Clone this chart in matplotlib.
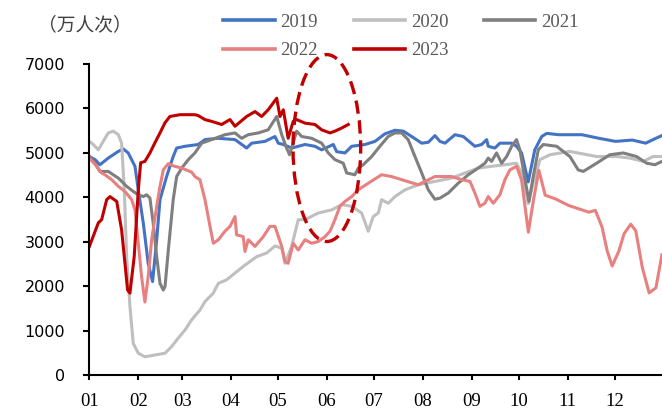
import matplotlib.pyplot as plt
from matplotlib.patches import Ellipse

plt.rcParams['font.family'] = ['DejaVu Sans']

# day of year -> 万人次
days_2019 = [0, 3.6, 6.7, 12, 18.4, 21.6, 24.7, 29, 31.1, 34.3, 37.4, 40.2, 42.8, 44.9, 49.1, 53.3,
             55.5, 60.8, 69.2, 73.5, 81.9, 92.6, 100, 103.2, 111.6, 118, 120.1, 123.3, 128.6, 137.1,
             143.4, 147.7, 155.1, 157.2, 162.5, 166.8, 175.2, 181.6, 187.9, 194.3, 199.6, 204.9,
             211.3, 215.5, 219.7, 222.9, 226.1, 232.4, 237.7, 245.1, 249.4, 252.6, 253.6, 257.8,
             261, 268.5, 271.6, 274.8, 279, 283.2, 287.6, 290.8, 298.3, 313.2, 323.9, 334.5,
             345.2, 353.7, 360.2, 364]
vals_2019 = [4910, 4840, 4725, 4875, 5025, 5080, 4990, 4690, 4160, 3410, 2510, 2100, 3040, 3940,
             4460, 4910, 5100, 5140, 5180, 5290, 5320, 5290, 5100, 5210, 5250, 5360, 5210, 5180,
             5100, 5180, 5140, 5060, 5180, 5020, 4990, 5140, 5180, 5250, 5420, 5500, 5480, 5360,
             5210, 5230, 5380, 5250, 5210, 5400, 5360, 5140, 5180, 5290, 5140, 5100, 5210, 5210,
             5140, 4990, 4340, 5060, 5360, 5430, 5400, 5400, 5320, 5250, 5280, 5210, 5320, 5380]

days_2020 = [0, 2.5, 5.7, 8.8, 12, 15.2, 18.4, 20.5, 22.2, 23.7, 25.8, 27.9, 31.1, 35.3, 41.7, 48.1,
             52.3, 56.5, 60.8, 65, 70.3, 73.5, 78.8, 82, 87.3, 93.6, 97.8, 106.4, 112.7, 118,
             122.3, 124.4, 128.6, 132.8, 137.1, 145.5, 154, 160.4, 166.8, 173.1, 177.3, 180.5,
             183.7, 185.8, 190, 194.3, 200.6, 209.1, 219.7, 230.3, 238.8, 247.2, 255.7, 264.2,
             271.6, 275.8, 279, 282.2, 286.5, 292.8, 305.5, 322.5, 335.2, 343.7, 352.1, 358.5, 364]
vals_2020 = [5250, 5180, 5060, 5250, 5440, 5480, 5400, 5210, 4160, 2660, 1540, 710, 490, 410, 450,
             490, 640, 830, 1010, 1240, 1460, 1650, 1840, 2060, 2140, 2320, 2440, 2660, 2740, 2900,
             2850, 2510, 2890, 3490, 3490, 3640, 3710, 3830, 3790, 3640, 3230, 3560, 3640, 3940,
             3860, 4010, 4160, 4275, 4350, 4425, 4540, 4650, 4690, 4725, 4760, 4460, 3850, 4310,
             4840, 4950, 5025, 4910, 4910, 4875, 4800, 4910, 4910]

days_2021 = [0, 3.6, 6.7, 12, 18.4, 23.7, 27.9, 31.1, 34.3, 36.4, 38.5, 40.6, 42.8, 44.9, 47, 48.1,
             50.2, 53.3, 55.5, 58.7, 62.9, 67.1, 71.4, 77.7, 86.2, 92.6, 96.8, 101, 107.4, 113.7,
             119.1, 122.3, 125.4, 127.3, 131.8, 135, 141.3, 147.7, 151.9, 156.1, 161.4, 163.6,
             168.8, 171, 174.1, 179.5, 184.7, 190, 194.3, 198.5, 202.7, 207, 211.3, 215.5, 219.7,
             222.9, 228.2, 234.5, 240.9, 247.2, 251.5, 253.6, 255.7, 258.9, 262.1, 265.3, 268.5,
             271.6, 273.7, 277, 279.5, 282.2, 285.4, 288.6, 297.1, 305.5, 310.8, 314, 322.5,
             330.9, 339.4, 347.9, 354.3, 359.6, 364]
vals_2021 = [4910, 4760, 4575, 4575, 4425, 4240, 4125, 4050, 4010, 4050, 3975, 3410, 2660, 2060,
             1910, 1990, 2810, 3940, 4460, 4650, 4840, 4990, 5210, 5290, 5400, 5440, 5320, 5400,
             5440, 5510, 5810, 5400, 5100, 4950, 5480, 5360, 5320, 5210, 4990, 4840, 4760, 4540,
             4500, 4650, 4725, 4910, 5140, 5360, 5440, 5440, 5290, 4910, 4540, 4160, 3950, 3975,
             4090, 4310, 4500, 4650, 4760, 4875, 4800, 4990, 4760, 4910, 5140, 5290, 5060, 4390,
             3900, 4460, 5060, 5180, 5140, 4910, 4610, 4575, 4760, 4950, 4990, 4910, 4760, 4725,
             4800]

days_2022 = [0, 4.6, 7.8, 9.9, 14.2, 18.4, 22.6, 26.9, 29, 31.1, 33.2, 35.3, 37.4, 39.6, 42.8, 44.9,
             47, 50.2, 53.3, 58.7, 65, 67.1, 70.3, 73.5, 76.7, 78.8, 82, 86.2, 89.4, 92.6, 93.6,
             97.8, 98.9, 101, 105.3, 110.6, 114.8, 118, 122.3, 124.4, 126.4, 129.6, 132.8, 137.1,
             141.3, 145.5, 149.8, 153, 156.1, 159.3, 162.5, 166.8, 170.9, 177.3, 185.8, 192.2,
             198.5, 209.1, 219.7, 230.3, 236.7, 242, 245.1, 248.3, 251.5, 253.6, 256.8, 261, 264.2,
             267.4, 271.6, 274.8, 279.1, 282.3, 285.8, 289.8, 296.2, 304.7, 311.1, 317.5, 321.7,
             326, 329.2, 332.4, 336.7, 339.9, 344.2, 347.4, 351.6, 355.9, 360.2, 364]
vals_2022 = [4875, 4690, 4540, 4500, 4390, 4240, 4125, 3940, 3710, 2960, 2210, 1640, 2210, 3040,
             3790, 4240, 4610, 4750, 4700, 4650, 4560, 4460, 4390, 3940, 3340, 2960, 3040, 3230,
             3340, 3560, 3150, 3110, 2775, 3040, 2890, 3110, 3340, 3340, 2890, 2550, 2510, 2960,
             2810, 3040, 2960, 3000, 3110, 3230, 3490, 3790, 3900, 4010, 4160, 4310, 4500, 4460,
             4390, 4275, 4460, 4460, 4390, 4350, 4090, 3790, 3860, 4010, 3860, 4050, 4390, 4610,
             4690, 4380, 3210, 3920, 4600, 4040, 3960, 3810, 3735, 3660, 3700, 3320, 2790, 2450,
             2790, 3170, 3390, 3240, 2410, 1845, 1960, 2700]

days_2023 = [0, 5.7, 7.8, 11, 13.1, 17.4, 20.5, 22.6, 24.3, 25.8, 28.5, 31.1, 32.6, 35.3, 38.5, 41.7,
             44.9, 48.1, 51.2, 57.6, 67.1, 69.2, 73.5, 77.7, 84.1, 89.4, 92.6, 100, 105.3, 109.5,
             113.7, 119.1, 121.2, 123.3, 126.4, 129.6, 131.8, 137.1, 143.4, 147.7, 153, 156.1,
             160.4, 164.6]
vals_2023 = [2890, 3420, 3490, 3940, 4010, 3900, 3260, 2520, 1910, 1840, 2660, 4160, 4770, 4800,
             4990, 5220, 5440, 5670, 5810, 5850, 5850, 5830, 5740, 5700, 5630, 5740, 5590, 5810,
             5920, 5810, 5960, 6220, 5810, 5960, 5320, 5700, 5740, 5660, 5630, 5510, 5440, 5480,
             5550, 5630]

years = ['2019', '2020', '2021', '2022', '2023']
colors = ['#4472C4', '#BFBFBF', '#7F7F7F', '#E88080', '#C00000']
month_days = [0, 31, 59, 90, 120, 151, 181, 212, 243, 273, 304, 334]
month_labels = ['01', '02', '03', '04', '05', '06', '07', '08', '09', '10', '11', '12']

fig = plt.figure(figsize=(6.62, 4.09), dpi=100)
ax = fig.add_axes([0.135, 0.0831, 0.8672, 0.7616])

series = [(days_2019, vals_2019), (days_2020, vals_2020), (days_2021, vals_2021),
          (days_2022, vals_2022), (days_2023, vals_2023)]
lines = {}
for (d, v), yr, c in zip(series, years, colors):
    lines[yr], = ax.plot(d, v, color=c, lw=2.2, label=yr, solid_joinstyle='round')

# dashed ellipse round the 2023 May-June section
ax.add_patch(Ellipse((151, 5100), 43, 4200, fill=False, edgecolor='#C00000', lw=2.4,
                     linestyle=(0, (4, 2)), clip_on=False, zorder=5))

ax.set_xlim(0, 365)
ax.set_ylim(0, 7000)
ax.set_yticks(range(0, 7001, 1000))
ax.set_xticks(month_days)
ax.set_xticklabels(month_labels, fontfamily='Liberation Serif', fontsize=13.5)
for lab in ax.get_yticklabels():
    lab.set_fontsize(11.5)

for s in ['top', 'right']:
    ax.spines[s].set_visible(False)
for s in ['left', 'bottom']:
    ax.spines[s].set_linewidth(1.5)
    ax.spines[s].set_color('black')
ax.tick_params(axis='y', direction='out', length=4.5, width=1.5, pad=13)
ax.tick_params(axis='x', direction='out', length=3.5, width=1.5, pad=9.5)

order = ['2019', '2022', '2020', '2023', '2021']
leg = fig.legend([lines[y] for y in order], order, ncol=3, frameon=False,
                 loc='upper left', bbox_to_anchor=(0.323, 0.99), borderpad=0,
                 handlelength=2.75, handletextpad=0.3, columnspacing=1.9, labelspacing=0.62,
                 prop={'family': 'Liberation Serif', 'size': 13.5})
for t in leg.get_texts():
    t.set_color('#595959')
for h in leg.legend_handles:
    h.set_linewidth(2.6)

fig.text(0.128, 0.94, '（万人次）', ha='center', va='center', fontsize=13.5,
         family=['Noto Sans CJK SC', 'DejaVu Sans'], color='#404040')

fig.savefig('out.png', dpi=100)
